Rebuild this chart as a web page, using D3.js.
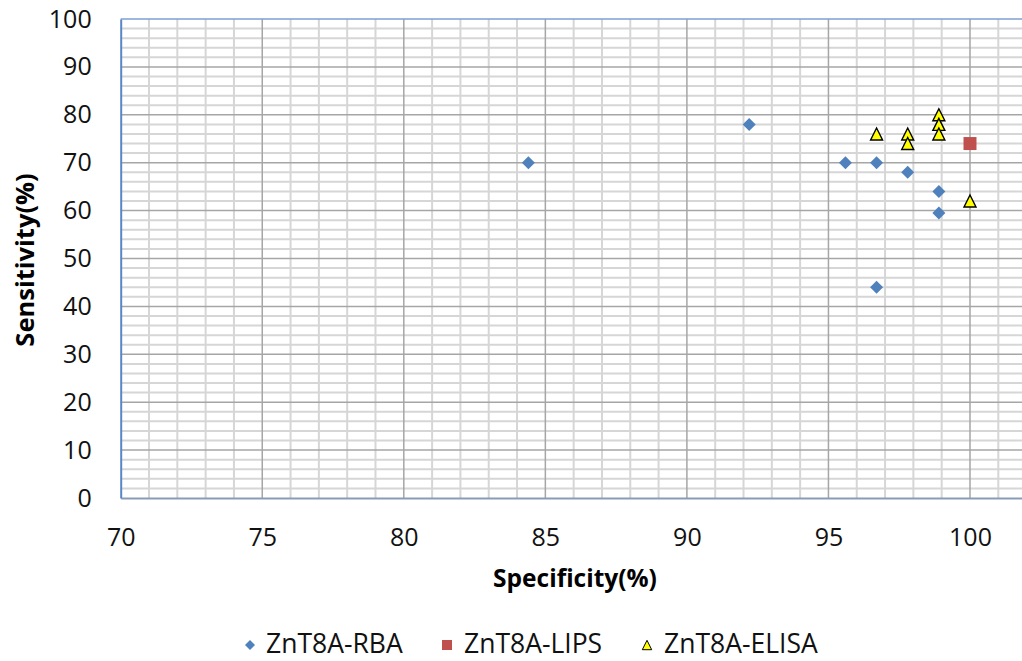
<!DOCTYPE html>
<html>
<head>
<meta charset="utf-8">
<script src="https://cdn.jsdelivr.net/npm/d3@7/dist/d3.min.js"></script>
<style>
  html, body { margin: 0; padding: 0; background: #fff; }
  svg { display: block; font-family: "Open Sans", "DejaVu Sans", sans-serif; }
</style>
</head>
<body>
<svg id="chart" width="1022" height="661"></svg>
<script>
// Series values: specificity (x) and sensitivity (y), in percent
const seriesNames = ["ZnT8A-RBA", "ZnT8A-LIPS", "ZnT8A-ELISA"];
const rbaSpec   = [84.4, 92.2, 95.6, 96.7, 97.8, 98.9, 98.9, 96.7];
const rbaSens   = [70, 78, 70, 70, 68, 64, 59.5, 44];
const lipsSpec  = [100];
const lipsSens  = [74];
const elisaSpec = [96.7, 97.8, 97.8, 98.9, 98.9, 98.9, 100];
const elisaSens = [76, 76, 74, 80, 78, 76, 62];

// Axis ticks
const xTicks = [70, 75, 80, 85, 90, 95, 100];
const yTicks = [0, 10, 20, 30, 40, 50, 60, 70, 80, 90, 100];
const xTitle = "Specificity(%)";
const yTitle = "Sensitivity(%)";

const svg = d3.select("#chart");

const plotLeft = 120.7, plotTop = 19, plotBottom = 498;
const x = d3.scaleLinear().domain([70, 102]).range([plotLeft, plotLeft + 32 * 28.31]);
const y = d3.scaleLinear().domain([0, 100]).range([plotBottom, plotTop]);
const plotRight = x(102);

// Grid: minor lines first, then major
const grid = svg.append("g");
const xMinor = d3.range(71, 102, 1).filter(v => v % 5 !== 0);
const yMinor = d3.range(2, 100, 2).filter(v => v % 10 !== 0);
grid.selectAll(".xm").data(xMinor).join("line")
  .attr("x1", d => x(d)).attr("x2", d => x(d))
  .attr("y1", plotTop).attr("y2", plotBottom)
  .attr("stroke", "#d6d6d6").attr("stroke-width", 2);
grid.selectAll(".ym").data(yMinor).join("line")
  .attr("x1", plotLeft).attr("x2", plotRight)
  .attr("y1", d => y(d)).attr("y2", d => y(d))
  .attr("stroke", "#d6d6d6").attr("stroke-width", 2);
grid.selectAll(".xM").data(xTicks.filter(v => v > 70)).join("line")
  .attr("x1", d => x(d)).attr("x2", d => x(d))
  .attr("y1", plotTop).attr("y2", plotBottom)
  .attr("stroke", "#a6a6a6").attr("stroke-width", 1.5);
grid.selectAll(".yM").data(yTicks.filter(v => v > 0 && v < 100)).join("line")
  .attr("x1", plotLeft).attr("x2", plotRight)
  .attr("y1", d => y(d)).attr("y2", d => y(d))
  .attr("stroke", "#a6a6a6").attr("stroke-width", 1.5);

// Plot frame: top edge and axes
svg.append("line")
  .attr("x1", plotLeft).attr("x2", plotRight).attr("y1", plotTop).attr("y2", plotTop)
  .attr("stroke", "#7f9fd0").attr("stroke-width", 1.5);

const xAxis = svg.append("g")
  .attr("transform", `translate(0,${plotBottom})`)
  .call(d3.axisBottom(x).tickValues(xTicks).tickSize(0).tickPadding(30).tickFormat(d3.format("d")));
xAxis.select(".domain").attr("stroke", "#8a9bb8").attr("stroke-width", 2);
xAxis.selectAll("text").attr("font-size", 25).attr("fill", "#111")
  .attr("font-family", "'Open Sans', sans-serif");

const yAxis = svg.append("g")
  .attr("transform", `translate(${plotLeft},0)`)
  .call(d3.axisLeft(y).tickValues(yTicks).tickSize(0).tickPadding(29).tickFormat(d3.format("d")));
yAxis.select(".domain").attr("stroke", "#5b86c5").attr("stroke-width", 2);
yAxis.selectAll("text").attr("font-size", 25).attr("fill", "#111")
  .attr("font-family", "'Open Sans', sans-serif");

// Axis titles
svg.append("text")
  .attr("x", 575).attr("y", 587)
  .attr("text-anchor", "middle")
  .attr("font-size", 24.5).attr("font-weight", "bold")
  .text(xTitle);
svg.append("text")
  .attr("transform", "translate(34,260) rotate(-90)")
  .attr("text-anchor", "middle")
  .attr("font-size", 25.5).attr("font-weight", "bold")
  .text(yTitle);

// Marker shapes
const diamond = s => `M0,${-s}L${s},0L0,${s}L${-s},0Z`;
const square = s => `M${-s},${-s}H${s}V${s}H${-s}Z`;
const triangle = s => `M0,${-s}L${s},${s}H${-s}Z`;

const colors = ["#4f81bd", "#c0504d", "#ffff00"];

const plot = svg.append("g");
plot.selectAll(".rba").data(d3.zip(rbaSpec, rbaSens)).join("path")
  .attr("transform", d => `translate(${x(d[0])},${y(d[1])})`)
  .attr("d", diamond(6.5))
  .attr("fill", colors[0]);
plot.selectAll(".lips").data(d3.zip(lipsSpec, lipsSens)).join("path")
  .attr("transform", d => `translate(${x(d[0])},${y(d[1])})`)
  .attr("d", square(6.5))
  .attr("fill", colors[1]);
plot.selectAll(".elisa").data(d3.zip(elisaSpec, elisaSens)).join("path")
  .attr("transform", d => `translate(${x(d[0])},${y(d[1])})`)
  .attr("d", triangle(6))
  .attr("fill", colors[2]).attr("stroke", "#000").attr("stroke-width", 1.4)
  .attr("stroke-linejoin", "miter");

// Legend
const legendItems = [
  { name: seriesNames[0], shape: diamond(5), fill: colors[0], stroke: "none", mx: 250, tx: 266 },
  { name: seriesNames[1], shape: square(5), fill: colors[1], stroke: "none", mx: 447, tx: 464 },
  { name: seriesNames[2], shape: triangle(4.7), fill: colors[2], stroke: "#000", mx: 647, tx: 664 }
];
const legend = svg.append("g");
legendItems.forEach(it => {
  legend.append("path")
    .attr("transform", `translate(${it.mx},645)`)
    .attr("d", it.shape).attr("fill", it.fill)
    .attr("stroke", it.stroke).attr("stroke-width", 1);
  legend.append("text")
    .attr("x", it.tx).attr("y", 653)
    .attr("font-size", 26.5)
    .attr("fill", "#111")
    .text(it.name);
});
</script>
</body>
</html>
